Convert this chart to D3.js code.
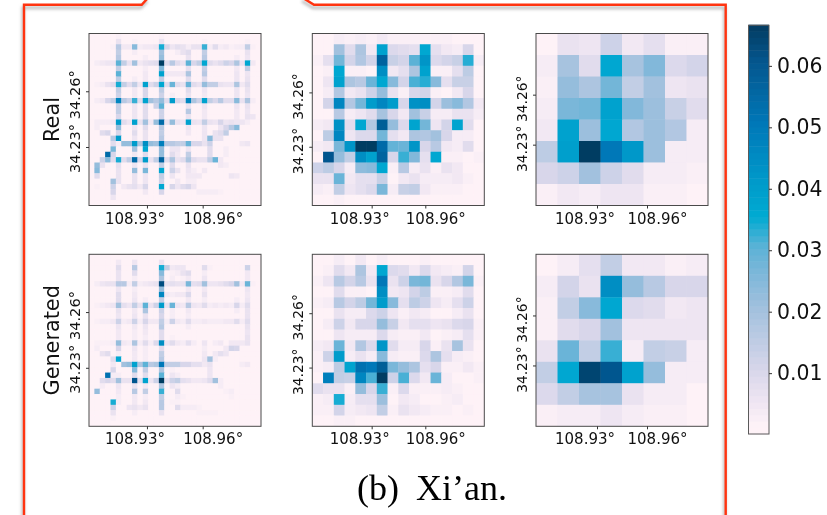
<!DOCTYPE html>
<html>
<head>
<meta charset="utf-8">
<script src="https://cdn.jsdelivr.net/npm/d3@7"></script>
<style>
    html, body { margin: 0; padding: 0; background: #fff; overflow: hidden; }
    svg { display: block; filter: blur(0.45px); }
    text { font-family: "DejaVu Sans", sans-serif; fill: #111; }
</style>
</head>
<body>
<svg id="chart" width="827" height="515"></svg>
<script>
//--------DATA (cell values in thousandths)--------
const rowLabels = ['Real', 'Generated'];
const lonTicks = [108.93, 108.96];
const latTicks = [34.23, 34.26];
const colorbarTicks = [0.01, 0.02, 0.03, 0.04, 0.05, 0.06];
const colorStops = [0.001, 0.005, 0.01, 0.02, 0.025, 0.03, 0.035, 0.04, 0.05, 0.06, 0.0666];
const colorRange = ['#fef2f7', '#eee5f2', '#d8d6ea', '#a2c1de', '#82b8da', '#5cb2d6', '#00aad2', '#009ccb', '#0078b8', '#04578f', '#033a5e'];

const real32 = [
    [1,1,1,1,1,2,1,1,1,1,1,1,1,2,1,1,1,1,1,1,1,1,1,1,1,1,1,1,1,1,1,1],
    [1,1,1,1,1,6,1,1,2,1,1,1,1,6,1,1,1,1,1,1,1,2,1,1,1,1,1,1,1,2,1,1],
    [1,1,1,1,2,16,4,4,24,3,4,4,5,34,10,5,7,6,3,6,6,32,3,8,3,4,2,3,3,14,2,1],
    [1,1,1,1,1,14,1,1,3,1,1,1,1,20,1,1,3,6,8,1,1,14,1,1,1,1,1,1,1,6,1,1],
    [1,1,1,1,1,16,1,1,1,1,3,1,1,22,1,1,1,1,6,1,1,16,1,1,1,1,1,3,1,5,1,1],
    [1,3,4,5,5,30,14,6,20,4,6,7,8,66,8,16,8,6,30,10,14,36,8,6,8,12,10,18,6,36,4,1],
    [1,1,1,1,1,14,1,1,1,1,3,1,1,25,1,1,1,1,7,1,1,14,1,1,1,1,1,4,1,14,1,1],
    [1,1,1,1,1,30,1,1,1,1,4,1,1,38,4,4,4,4,18,1,1,16,1,1,1,1,1,5,1,5,1,1],
    [1,1,1,1,1,15,1,1,3,1,4,1,1,14,1,1,1,1,8,1,1,8,1,1,1,1,1,5,1,6,1,1],
    [1,2,3,6,8,34,14,8,14,5,38,8,12,36,8,28,8,6,28,8,6,22,14,14,6,5,5,18,4,8,1,1],
    [1,1,1,1,1,14,1,1,4,1,10,1,1,15,1,1,1,1,8,1,1,5,1,1,1,1,1,5,1,6,1,1],
    [1,1,1,1,1,12,1,1,4,1,10,1,1,12,1,3,1,1,6,1,1,4,1,1,1,1,1,5,1,5,1,1],
    [1,3,4,10,14,46,16,12,32,8,38,20,16,22,8,40,10,8,46,18,12,38,14,10,16,8,8,24,6,18,3,1],
    [1,1,1,1,1,14,1,1,5,1,8,1,12,30,1,1,1,1,6,1,1,5,1,1,1,1,1,5,1,6,1,1],
    [1,1,1,1,1,14,1,1,5,1,8,1,1,12,1,1,1,1,16,1,1,4,1,1,1,1,1,4,1,5,1,1],
    [1,1,1,1,1,10,1,1,5,1,8,1,1,12,1,1,1,1,6,1,1,4,1,1,1,1,1,4,1,6,5,1],
    [1,3,3,3,4,40,8,5,38,6,20,4,22,54,6,22,6,5,38,6,5,14,6,5,10,5,6,5,5,3,1,1],
    [1,3,1,1,1,22,1,1,5,1,8,1,1,16,1,1,1,1,5,1,1,5,1,1,5,10,16,24,1,1,1,1],
    [1,1,8,10,1,10,1,1,8,1,6,1,1,14,1,1,1,1,4,1,1,5,1,6,8,14,1,1,1,1,1,1],
    [1,1,1,1,16,40,1,1,5,1,6,1,1,16,1,1,1,1,1,1,1,5,24,6,6,1,1,1,1,1,1,1],
    [1,1,1,1,8,3,22,22,40,18,44,22,20,48,16,16,14,14,28,10,10,6,12,1,1,1,1,1,4,5,1,1],
    [1,1,1,1,26,1,1,1,20,1,36,1,1,22,1,5,5,1,5,1,1,1,8,1,1,3,1,1,1,1,1,1],
    [1,1,1,54,10,1,1,1,4,1,8,1,1,22,1,8,4,1,14,1,1,1,8,1,1,3,1,1,1,1,1,1],
    [1,1,12,24,8,34,8,14,54,10,40,6,14,56,8,18,6,8,18,8,6,6,14,28,4,1,1,1,1,1,1,1],
    [1,22,6,1,1,7,1,1,5,1,6,1,1,14,1,8,1,1,6,1,1,1,1,1,4,3,1,1,1,1,1,1],
    [1,24,1,1,1,6,1,1,22,1,26,1,1,36,1,12,6,1,5,3,1,4,1,1,1,1,1,1,1,1,1,1],
    [1,8,1,1,1,6,1,1,6,1,5,1,1,14,1,5,1,1,4,4,4,1,1,1,1,1,5,4,1,1,1,1],
    [1,1,1,1,20,6,1,1,6,1,5,1,1,12,1,1,4,1,3,3,1,1,1,1,1,1,1,1,1,1,1,1],
    [1,2,1,1,12,1,4,6,7,4,10,1,1,36,1,10,5,8,10,5,1,1,1,1,1,1,1,1,1,1,1,1],
    [1,1,1,1,10,1,1,1,1,1,4,1,1,10,1,1,1,1,1,1,3,3,3,3,2,1,1,1,1,1,1,1],
    [1,1,1,1,5,1,1,1,1,1,1,1,1,1,1,1,1,1,1,1,1,1,1,1,1,1,1,1,1,1,1,1],
    [1,1,1,1,1,1,1,1,1,1,1,1,1,1,1,1,1,1,1,1,1,1,1,1,1,1,1,1,1,1,1,1]
];

const gen32 = [
    [1,1,1,1,1,1,1,1,1,1,1,1,1,1,1,1,1,1,1,1,1,1,1,1,1,1,1,1,1,1,1,1],
    [1,1,1,1,1,4,1,1,5,1,1,1,1,6,1,1,1,1,1,1,1,1,1,1,1,1,1,1,1,1,1,1],
    [1,1,1,1,1,8,1,1,16,1,1,1,1,34,14,4,5,5,1,1,1,8,2,1,1,1,1,1,1,12,1,1],
    [1,1,1,1,1,6,1,1,8,1,1,1,1,24,1,2,3,6,8,1,1,3,1,1,1,1,1,1,1,4,1,1],
    [1,1,1,1,1,6,1,1,3,1,1,1,1,18,1,3,1,2,4,1,1,5,1,1,1,1,1,1,1,4,1,1],
    [1,3,5,6,6,16,16,3,14,3,4,5,6,62,6,7,6,6,26,7,8,20,5,5,6,8,10,20,4,28,2,1],
    [1,1,1,1,1,5,1,1,3,1,1,1,1,22,1,1,1,1,4,1,1,4,1,1,1,1,1,1,1,5,1,1],
    [1,1,1,1,1,8,1,1,4,1,1,1,1,46,4,3,4,4,9,1,1,6,1,1,1,1,1,1,1,4,1,1],
    [1,1,1,1,1,8,1,1,5,1,3,1,1,14,1,1,1,1,4,1,1,3,1,1,1,1,1,3,1,5,1,1],
    [1,2,3,4,5,20,7,5,14,6,30,6,12,40,6,28,5,4,16,5,4,8,3,4,3,4,3,10,3,8,1,1],
    [1,1,1,1,1,6,1,1,4,1,18,1,1,12,1,3,1,1,4,1,1,1,1,1,1,1,1,3,1,6,1,1],
    [1,1,1,1,1,5,1,1,5,1,6,1,1,10,1,3,1,1,3,1,1,1,1,1,1,1,1,1,1,6,1,1],
    [1,2,3,3,4,12,3,4,12,3,10,4,4,14,3,12,4,3,8,3,3,4,3,3,3,4,4,8,3,8,1,1],
    [1,1,1,1,1,5,1,1,4,1,5,1,1,16,1,1,1,1,3,1,1,1,1,1,1,1,1,1,1,6,1,1],
    [1,1,1,1,1,4,1,1,3,1,4,1,1,8,1,1,1,1,1,1,1,1,1,1,1,1,1,1,1,5,1,1],
    [1,1,1,1,1,4,1,1,3,1,3,1,1,8,1,2,1,1,1,1,1,1,1,1,1,1,1,1,1,6,1,1],
    [1,2,2,2,3,22,4,3,18,3,8,3,9,44,5,8,4,3,7,3,1,5,1,3,4,1,4,4,4,6,1,1],
    [1,3,1,1,1,10,1,1,5,1,3,1,1,8,1,1,1,1,1,1,1,3,1,1,1,4,11,10,1,1,1,1],
    [1,1,6,8,1,3,1,1,4,1,3,1,1,14,1,1,1,1,1,1,1,4,1,4,7,5,1,1,1,1,1,1],
    [1,1,1,1,8,36,1,1,4,1,3,1,1,16,1,1,1,1,1,1,1,5,20,3,1,1,1,1,1,1,1,1],
    [1,1,1,1,4,1,20,22,38,18,30,16,18,50,14,14,14,10,10,7,7,4,6,1,1,1,1,1,3,4,1,1],
    [1,1,1,1,10,1,1,1,24,1,14,1,1,18,1,2,1,1,1,1,1,1,5,1,1,1,1,1,1,1,1,1],
    [1,1,1,52,3,3,1,1,8,1,8,1,1,30,1,5,3,1,1,1,1,1,5,1,1,1,1,1,1,1,1,1],
    [1,1,8,10,8,20,6,6,60,7,38,5,12,66,6,12,14,7,6,4,4,5,8,20,3,1,1,1,1,1,1,1],
    [1,1,3,1,1,5,1,1,6,1,4,1,1,18,1,5,3,1,1,1,1,1,1,1,3,1,1,1,1,1,1,1],
    [1,22,1,1,1,4,1,1,16,1,14,1,1,32,1,1,8,1,1,1,1,1,1,1,1,2,3,1,1,1,1,1],
    [1,1,1,1,1,3,1,1,4,1,3,1,1,14,1,1,3,2,1,1,1,1,1,1,1,1,2,1,1,1,1,1],
    [1,1,1,1,34,3,1,1,4,1,4,1,1,16,1,2,2,1,1,1,1,1,1,1,1,1,1,1,1,1,1,1],
    [1,1,1,1,12,1,1,5,6,4,6,1,1,16,1,1,8,3,3,3,2,1,1,1,1,1,1,1,1,1,1,1],
    [1,1,1,1,6,1,1,1,3,1,1,1,1,6,1,1,1,1,1,1,2,2,2,2,1,1,1,1,1,1,1,1],
    [1,1,1,1,2,1,1,1,1,1,1,1,1,1,1,1,1,1,1,1,1,1,1,1,1,1,1,1,1,1,1,1],
    [1,1,1,1,1,1,1,1,1,1,1,1,1,1,1,1,1,1,1,1,1,1,1,1,1,1,1,1,1,1,1,1]
];

const real16 = [
    [1,1,3,2,3,2,4,2,2,2,2,2,2,1,1,1],
    [1,1,20,8,18,4,38,9,8,7,36,7,4,3,10,1],
    [2,7,27,11,17,11,56,13,11,30,42,9,11,13,33,3],
    [1,2,36,2,2,1,44,4,7,18,38,2,2,7,15,1],
    [1,5,38,18,16,28,36,24,11,31,33,24,7,13,13,1],
    [1,3,17,4,6,12,22,6,2,10,11,2,1,4,10,1],
    [1,11,46,17,27,40,46,40,10,43,44,11,21,24,17,4],
    [1,1,16,3,5,8,19,10,4,20,13,3,3,6,6,3],
    [3,4,43,8,36,17,58,22,9,37,27,5,11,37,8,1],
    [1,15,46,5,9,9,27,7,4,18,17,20,10,3,3,1],
    [3,4,26,42,66,66,54,29,28,42,10,16,4,3,8,1],
    [1,60,22,14,44,38,56,10,32,25,7,36,2,2,1,2],
    [12,15,10,3,23,24,36,2,16,3,6,2,6,4,1,1],
    [6,6,28,4,7,7,13,1,4,6,3,3,3,4,2,1],
    [3,2,14,5,7,9,26,3,13,14,4,2,2,2,1,1],
    [1,1,2,1,1,1,1,1,1,1,1,1,1,1,1,1]
];

const gen16 = [
    [1,1,3,1,4,1,3,1,1,1,2,1,1,1,1,1],
    [1,2,8,4,18,4,36,9,8,4,9,4,3,2,11,1],
    [2,5,16,11,16,6,50,6,12,26,27,6,10,17,26,2],
    [1,1,8,2,2,1,44,4,5,11,15,2,2,3,8,1],
    [2,3,16,11,15,27,40,24,7,15,12,5,3,7,12,1],
    [1,1,6,3,3,9,12,5,2,4,3,1,1,3,6,1],
    [1,3,12,4,10,10,22,13,4,7,7,5,6,9,10,2],
    [1,1,5,3,3,3,9,3,2,2,4,1,2,3,7,2],
    [3,4,28,4,17,9,42,8,3,3,10,2,6,19,6,1],
    [2,12,40,3,6,3,24,3,2,2,9,18,7,3,2,1],
    [2,3,15,37,52,50,58,26,22,18,7,10,2,2,4,2],
    [1,48,14,13,46,31,66,12,31,9,4,28,3,1,1,2],
    [8,6,6,2,22,10,32,2,9,2,2,2,3,2,1,1],
    [2,3,34,3,7,7,21,1,4,3,1,1,2,3,1,1],
    [2,2,11,3,4,5,14,2,6,4,3,2,2,1,2,1],
    [1,1,2,2,1,1,1,1,1,1,1,1,1,1,1,1]
];

const real8 = [
    [1,6,5,12,4,7,2,2],
    [3,19,8,36,19,25,9,11],
    [2,22,18,27,14,20,5,6],
    [3,26,27,38,25,21,13,8],
    [4,38,21,36,17,21,17,3],
    [15,39,66,50,41,21,3,3],
    [10,12,20,12,8,3,3,2],
    [2,4,3,5,5,2,2,1]
];

const gen8 = [
    [1,3,7,14,4,4,2,3],
    [3,11,6,44,22,16,10,10],
    [2,14,24,36,9,8,4,5],
    [2,8,10,20,5,5,5,5],
    [6,28,14,32,3,14,13,3],
    [14,36,64,60,38,22,3,3],
    [9,14,19,19,6,3,3,1],
    [2,3,3,5,3,2,2,1]
];

const grids = [[real32, real16, real8], [gen32, gen16, gen8]];
const lonDomains = [[108.8988, 108.9914], [108.8968, 108.9930], [108.8934, 108.9966]];
const latDomains = [[34.1985, 34.2911], [34.1976, 34.2925], [34.1935, 34.2967]];

//--------LAYOUT--------
const panelX = [89, 312.3, 536];
const panelY = [33.5, 254.3];
const panelSize = 172;
const lonLabelShift = [-12.5, 10]; //tick labels were pushed apart in the original
const latLabelShift = [[1, 3], [3.7, 3.7], [3.7, 3.7]];
const latLabelSize = [14.6, 13.8, 13.8];

const svg = d3.select('#chart');

const color = d3.scaleLinear()
    .domain(colorStops)
    .range(colorRange)
    .clamp(true);

//--------FRAME--------
const framePath = 'M148,-2 L141.7,4.7 L24,4.7 L24,520 M303,-2 L314,4.7 L725.7,4.7 L725.7,520';

const defs = svg.append('defs');

defs.append('filter')
    .attr('id', 'soft')
    .attr('x', '-5%').attr('y', '-5%').attr('width', '110%').attr('height', '110%')
    .append('feGaussianBlur')
    .attr('stdDeviation', 1.8);

defs.append('filter')
    .attr('id', 'cellBlur')
    .attr('x', '-5%').attr('y', '-5%').attr('width', '110%').attr('height', '110%')
    .append('feGaussianBlur')
    .attr('stdDeviation', 0.4);

defs.append('clipPath')
    .attr('id', 'panelClip')
    .append('rect')
    .attr('width', panelSize)
    .attr('height', panelSize);

svg.append('path')
    .attr('d', framePath)
    .attr('transform', 'translate(-1, 3)')
    .attr('fill', 'none')
    .attr('stroke', '#bdbdbd')
    .attr('stroke-width', 3)
    .attr('filter', 'url(#soft)');

svg.append('path')
    .attr('d', framePath)
    .attr('fill', 'none')
    .attr('stroke', '#ff3410')
    .attr('stroke-width', 2.4);

//--------PANELS--------
function drawPanel(row, col){
    const data = grids[row][col];
    const n = data.length;
    const g = svg.append('g')
        .attr('transform', `translate(${panelX[col]}, ${panelY[row]})`);

    const band = d3.scaleBand()
        .domain(d3.range(n))
        .range([0, panelSize]);

    const cells = data.flatMap((values, r) => values.map((v, c) => ({r, c, v})));

    const clip = g.append('g').attr('clip-path', 'url(#panelClip)');

    clip.append('rect')
        .attr('width', panelSize)
        .attr('height', panelSize)
        .attr('fill', color(0.001));

    clip.append('g')
        .attr('filter', 'url(#cellBlur)')
        .selectAll('rect')
        .data(cells)
        .join('rect')
        .attr('x', d => band(d.c))
        .attr('y', d => band(d.r))
        .attr('width', band.bandwidth() + 0.4)
        .attr('height', band.bandwidth() + 0.4)
        .attr('fill', d => color(d.v / 1000));

    g.append('rect')
        .attr('width', panelSize)
        .attr('height', panelSize)
        .attr('fill', 'none')
        .attr('stroke', '#4a4a4a')
        .attr('stroke-width', 1);

    const scaleX = d3.scaleLinear().domain(lonDomains[col]).range([0, panelSize]);
    const scaleY = d3.scaleLinear().domain(latDomains[col]).range([panelSize, 0]);

    const axisX = g.append('g')
        .attr('transform', `translate(0, ${panelSize})`)
        .call(d3.axisBottom(scaleX)
            .tickValues(lonTicks)
            .tickSize(3)
            .tickPadding(4.5)
            .tickFormat(d => d3.format('.2f')(d) + '°'));

    axisX.selectAll('text')
        .attr('x', (d, i) => lonLabelShift[i])
        .style('font-size', '15px');

    const axisY = g.append('g')
        .call(d3.axisLeft(scaleY)
            .tickValues(latTicks)
            .tickSize(3)
            .tickFormat(d => d3.format('.2f')(d) + '°'));

    axisY.selectAll('text')
        .attr('transform', 'rotate(-90)')
        .attr('x', (d, i) => -latLabelShift[col][i])
        .attr('y', -9.5)
        .attr('dy', 0)
        .style('text-anchor', 'middle')
        .style('font-size', latLabelSize[col] + 'px');

    [axisX, axisY].forEach(axis => {
        axis.attr('font-family', null).attr('font-size', null);
        axis.select('.domain').remove();
        axis.selectAll('line').attr('stroke', '#333');
    });
}

rowLabels.forEach((label, row) => {
    lonDomains.forEach((d, col) => drawPanel(row, col));

    svg.append('text')
        .attr('transform', `translate(59, ${panelY[row] + 86}) rotate(-90)`)
        .style('text-anchor', 'middle')
        .style('font-size', '20.8px')
        .text(label);
});

//--------COLORBAR--------
const barX = 748.5, barW = 20.5, barTop = 25.3, barBottom = 434;
const barScale = d3.scaleLinear().domain([0.0001, 0.0666]).range([barBottom, barTop]);
const barLevels = d3.range(0.0001, 0.0666, 0.0666 / 64);

svg.selectAll('rect.level')
    .data(barLevels)
    .join('rect')
    .attr('class', 'level')
    .attr('x', barX)
    .attr('width', barW)
    .attr('y', d => barScale(d + 0.0666 / 64))
    .attr('height', d => barScale(d) - barScale(d + 0.0666 / 64) + 0.5)
    .attr('fill', d => color(d));

svg.append('rect')
    .attr('x', barX)
    .attr('y', barTop)
    .attr('width', barW)
    .attr('height', barBottom - barTop)
    .attr('fill', 'none')
    .attr('stroke', '#5a5a5a')
    .attr('stroke-width', 1);

const barAxis = svg.append('g')
    .attr('transform', `translate(${barX + barW}, 0)`)
    .call(d3.axisRight(barScale)
        .tickValues(colorbarTicks)
        .tickSize(3)
        .tickPadding(5)
        .tickFormat(d3.format('.2f')));

barAxis.attr('font-family', null).attr('font-size', null);
barAxis.select('.domain').remove();
barAxis.selectAll('line').attr('stroke', '#333');
barAxis.selectAll('text').style('font-size', '20.4px');

//--------CAPTION--------
svg.append('text')
    .attr('x', 432)
    .attr('y', 500)
    .style('text-anchor', 'middle')
    .style('font-family', '"Liberation Serif", serif')
    .style('font-size', '36px')
    .style('word-spacing', '8px')
    .style('fill', '#000')
    .text('(b) Xi’an.');
</script>
</body>
</html>
